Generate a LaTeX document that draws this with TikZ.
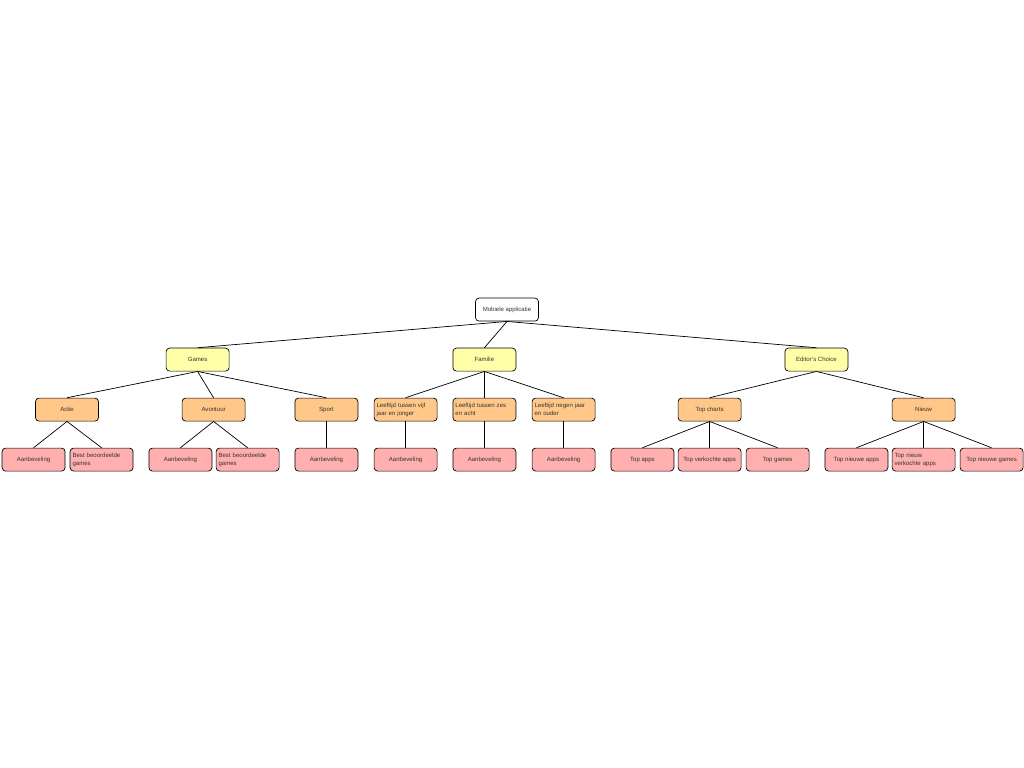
\documentclass[tikz,border=0pt]{standalone}
\usepackage{fontspec}
\setmainfont{Liberation Sans}
\usetikzlibrary{
		calc,
		positioning
	}
\definecolor{rootfill}{HTML}{FFFFFF}
\definecolor{catfill}{HTML}{FFFFAA}
\definecolor{subfill}{HTML}{FFC888}
\definecolor{leaffill}{HTML}{FFB0AE}
\tikzset{
		box/.style={draw=black, line width=0.5pt, rounded corners=2.5pt,
			minimum width=1.575cm, minimum height=0.575cm, inner sep=1pt,
			font=\fontsize{4.3}{5.6}\selectfont, text=black!80},
		rootbox/.style={box, fill=rootfill},
		catbox/.style={box, fill=catfill},
		subbox/.style={box, fill=subfill},
		leafbox/.style={box, fill=leaffill},
		twolines/.style={text width=1.45cm, align=left},
		link/.style={line width=0.5pt}
	}
\begin{document}
\begin{tikzpicture}
              \useasboundingbox (0,0) rectangle (25.6,-19.2);

              % the root
              \node[rootbox] (app) at (12.675,-7.74) {Mobiele applicatie};

              % the categories
              \node[catbox] (games) at (4.94,-8.99) {Games};
              \node[catbox] (familie) at (12.11,-8.99) {Familie};
              \node[catbox] (editor) at (20.41,-8.99) {Editor's Choice};

              % the subcategories
              \node[subbox] (actie) at (1.675,-10.24) {Actie};
              \node[subbox] (avontuur) at (5.34,-10.24) {Avontuur};
              \node[subbox] (sport) at (8.16,-10.24) {Sport};
              \node[subbox, twolines] (vijf) at (10.14,-10.24) {Leeftijd tussen vijf jaar en jonger};
              \node[subbox, twolines] (zes) at (12.11,-10.24) {Leeftijd tussen zes en acht};
              \node[subbox, twolines] (negen) at (14.09,-10.24) {Leeftijd negen jaar en ouder};
              \node[subbox] (charts) at (17.74,-10.24) {Top charts};
              \node[subbox] (nieuw) at (23.09,-10.24) {Nieuw};

              % the leaves
              \node[leafbox] (a1) at (0.84,-11.49) {Aanbeveling};
              \node[leafbox, twolines] (b1) at (2.54,-11.49) {Best beoordeelde games};
              \node[leafbox] (a2) at (4.51,-11.49) {Aanbeveling};
              \node[leafbox, twolines] (b2) at (6.19,-11.49) {Best beoordeelde games};
              \node[leafbox] (a3) at (8.16,-11.49) {Aanbeveling};
              \node[leafbox] (a4) at (10.14,-11.49) {Aanbeveling};
              \node[leafbox] (a5) at (12.11,-11.49) {Aanbeveling};
              \node[leafbox] (a6) at (14.09,-11.49) {Aanbeveling};
              \node[leafbox] (t1) at (16.06,-11.49) {Top apps};
              \node[leafbox] (t2) at (17.74,-11.49) {Top verkochte apps};
              \node[leafbox] (t3) at (19.44,-11.49) {Top games};
              \node[leafbox] (n1) at (21.41,-11.49) {Top nieuwe apps};
              \node[leafbox, twolines] (n2) at (23.09,-11.49) {Top nieuw\\ verkochte apps};
              \node[leafbox] (n3) at (24.79,-11.49) {Top nieuwe games};

              % draw the links
              \foreach \p/\c in {app/games, app/familie, app/editor,
                      games/actie, games/avontuur, games/sport,
                      familie/vijf, familie/zes, familie/negen,
                      editor/charts, editor/nieuw,
                      actie/a1, actie/b1, avontuur/a2, avontuur/b2, sport/a3,
                      vijf/a4, zes/a5, negen/a6,
                      charts/t1, charts/t2, charts/t3,
                      nieuw/n1, nieuw/n2, nieuw/n3}
                  \draw[link] (\p.south) -- (\c.north);

          \end{tikzpicture}
\end{document}
